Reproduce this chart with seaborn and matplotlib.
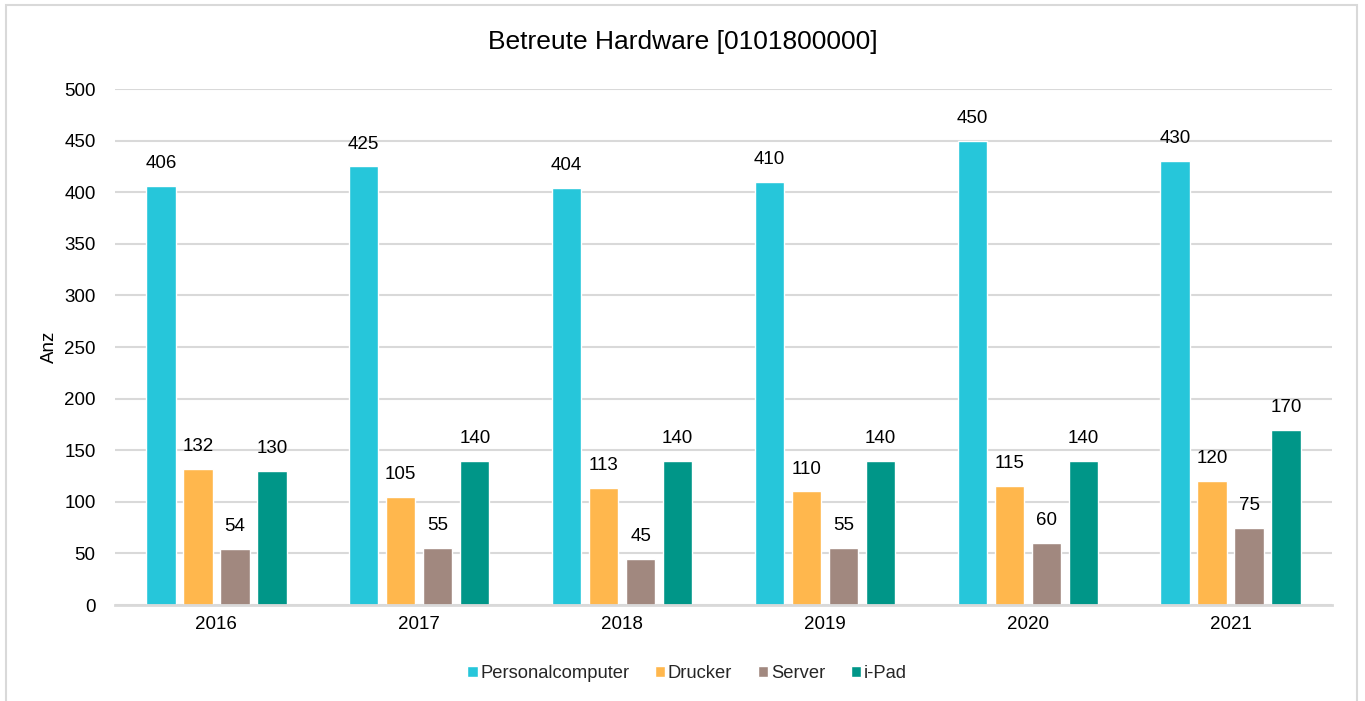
import matplotlib
matplotlib.use("Agg")
import matplotlib.pyplot as plt
import seaborn as sns
import pandas as pd
from matplotlib.patches import Rectangle

years = ["2016", "2017", "2018", "2019", "2020", "2021"]
personalcomputer = [406, 425, 404, 410, 450, 430]
drucker = [132, 105, 113, 110, 115, 120]
server = [54, 55, 45, 55, 60, 75]
ipad = [130, 140, 140, 140, 140, 170]
series_names = ["Personalcomputer", "Drucker", "Server", "i-Pad"]
colors = ["#26C6DA", "#FFB74D", "#A1887F", "#009688"]

rows = []
for name, vals in zip(series_names, [personalcomputer, drucker, server, ipad]):
    for y, v in zip(years, vals):
        rows.append({"Jahr": y, "Serie": name, "Wert": v})
df = pd.DataFrame(rows)

sns.set_theme(style="white")
plt.rcParams["font.family"] = ["Liberation Sans", "DejaVu Sans"]

fig = plt.figure(figsize=(13.65, 7.01), dpi=100)
ax = fig.add_axes([115 / 1365, 1 - 605 / 701, (1332 - 115) / 1365, (605 - 89) / 701])

sns.barplot(data=df, x="Jahr", y="Wert", hue="Serie", order=years,
            hue_order=series_names, palette=colors, width=0.73, gap=0.21,
            saturation=1, ax=ax, legend=True)

ax.set_ylim(0, 500)
ax.set_yticks(range(0, 501, 50))
ax.yaxis.grid(True, color="#D9D9D9", linewidth=1.5)
ax.set_axisbelow(True)
for s in ["top", "right", "left"]:
    ax.spines[s].set_visible(False)
ax.spines["bottom"].set_color("#D9D9D9")
ax.spines["bottom"].set_linewidth(2)
ax.tick_params(axis="both", length=0, labelsize=13.5, colors="#000000")
ax.tick_params(axis="y", pad=14)
ax.tick_params(axis="x", pad=8)
ax.set_xlabel("")
ax.set_ylabel("Anz", fontsize=13.5, color="#000000")
ax.yaxis.set_label_coords(-0.047, 0.5)

for c in ax.containers:
    ax.bar_label(c, padding=10, fontsize=13.5, color="#000000")

ax.set_title("Betreute Hardware [0101800000]", fontsize=19, pad=29,
             color="#000000", x=(683 - 115) / 1217)

leg = ax.legend(loc="upper center", bbox_to_anchor=(0.47, -0.085), ncol=4,
                frameon=False, fontsize=13.2, handlelength=0.55, handleheight=0.55,
                handletextpad=0.15, columnspacing=1.4)

fig.patches.append(Rectangle((6 / 1365, -0.05), (1357 - 6) / 1365, 1.05 - 5 / 701,
                             transform=fig.transFigure, fill=False,
                             edgecolor="#D9D9D9", linewidth=1.5))

fig.savefig("out.png", dpi=100)
